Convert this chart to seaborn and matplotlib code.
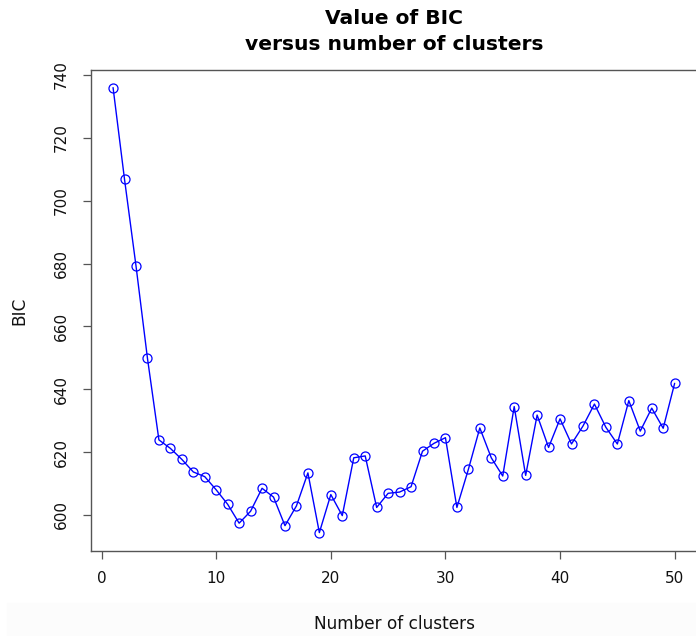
import matplotlib
matplotlib.use("Agg")
import matplotlib.pyplot as plt
import seaborn as sns
import pandas as pd
from matplotlib.patches import Rectangle

n_clusters = list(range(1, 51))
bic = [736.0, 706.8, 679.3, 649.9, 623.9, 621.2, 617.7, 613.7, 612.2, 608.0,
       603.4, 597.4, 601.2, 608.5, 605.7, 596.6, 602.9, 613.4, 594.4, 606.5,
       599.8, 618.2, 618.8, 602.4, 606.9, 607.3, 609.0, 620.3, 622.8, 624.6,
       602.4, 614.5, 627.7, 618.2, 612.4, 634.5, 612.6, 631.8, 621.5, 630.6,
       622.6, 628.3, 635.3, 627.9, 622.6, 636.4, 626.7, 634.0, 627.6, 641.9]
x_ticks = [0, 10, 20, 30, 40, 50]
y_ticks = [600, 620, 640, 660, 680, 700, 720, 740]
title_lines = ["Value of BIC", "versus number of clusters"]

df = pd.DataFrame({"k": n_clusters, "BIC": bic})

sns.set_style("white")
plt.rcParams["font.family"] = ["DejaVu Sans"]

W, H = 696, 636
fig = plt.figure(figsize=(W / 100, H / 100), dpi=100)
fig.patches.append(Rectangle((7 / W, 0), (W - 7) / W, (H - 603) / H,
                             transform=fig.transFigure, color="#fcfcfc",
                             zorder=-10))

left, right, top, bottom = 91, 697, 70, 550.7
ax = fig.add_axes([left / W, 1 - bottom / H, (right - left) / W, (bottom - top) / H])

sns.lineplot(data=df, x="k", y="BIC", ax=ax, color="#0000ff", linewidth=1.0,
             marker="o", markersize=6.5, markerfacecolor="none",
             markeredgecolor="#0000ff", markeredgewidth=0.9)

ax.set_xlim(-0.925, 51.95)
ax.set_ylim(588.64, 741.6)
ax.set_xticks(x_ticks)
ax.set_yticks(y_ticks)
ax.set_xticklabels([str(t) for t in x_ticks])
ax.set_yticklabels([str(t) for t in y_ticks])

for s in ax.spines.values():
    s.set_visible(True)
    s.set_color("#555555")
    s.set_linewidth(1.0)

ax.tick_params(axis="both", direction="out", length=5.8, width=0.9,
               color="#555555", labelsize=11, labelcolor="#111111")
ax.tick_params(axis="x", pad=9, bottom=True)
ax.tick_params(axis="y", pad=10.2, left=True, labelrotation=90)
for lab in ax.get_yticklabels():
    lab.set_va("center")

ax.set_xlabel("Number of clusters", fontsize=12.2, color="#111111", va="baseline")
ax.xaxis.set_label_coords(0.5, (bottom - 629) / (bottom - top))
ax.set_ylabel("BIC", fontsize=12.2, color="#111111")
ax.yaxis.set_label_coords((28 - left) / (right - left), 0.5)

cx = (left + right) / 2 / W
fig.text(cx, 1 - 24 / H, title_lines[0], ha="center", va="baseline",
         fontsize=14.6, fontweight="bold", color="black")
fig.text(cx, 1 - 50 / H, title_lines[1], ha="center", va="baseline",
         fontsize=14.6, fontweight="bold", color="black")

fig.savefig("out.png", dpi=100)
